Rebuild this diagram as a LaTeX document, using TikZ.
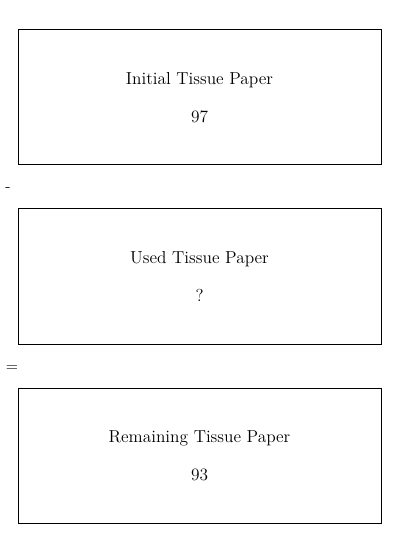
\documentclass[tikz,border=0pt]{standalone}
\usepackage{tikz}
\usetikzlibrary{positioning}

\begin{document}
\begin{tikzpicture}[
                x=0.75pt, y=-0.75pt,
                stepbox/.style={draw, line width=0.75pt, rectangle, align=center,
                    minimum width=272.25pt, minimum height=101.25pt,
                    font=\fontsize{13}{28.5}\selectfont},
                opsign/.style={inner sep=0pt, font=\fontsize{12}{14}\selectfont}
            ]
            \useasboundingbox (0,0) rectangle (400,534);

            % les trois boites
            \node[stepbox] (initial) at (199.5,97.5) {Initial Tissue Paper\\97};
            \node[stepbox] (used) at (199.5,276.5) {Used Tissue Paper\\?};
            \node[stepbox] (remaining) at (199.5,455.5) {Remaining Tissue Paper\\93};

            % les signes entre les boites
            \node[opsign] (minus) at (8,190) {-};
            \node[opsign] (equals) at (12,369) {=};
        \end{tikzpicture}
\end{document}
